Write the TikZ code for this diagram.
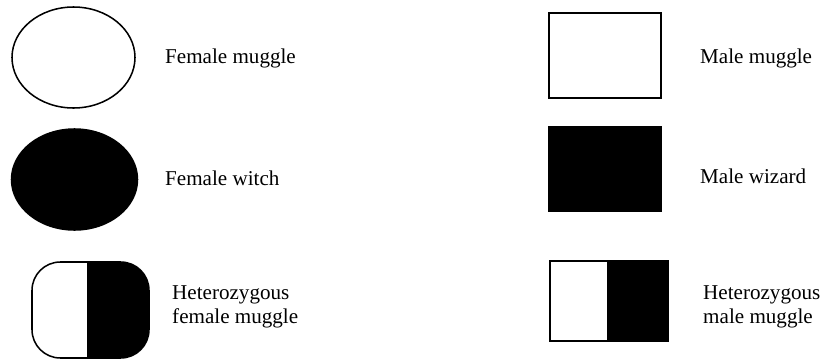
\documentclass[tikz,border=0pt]{standalone}
\usepackage{fontspec}
\setmainfont{Liberation Serif}
\usetikzlibrary{shapes.geometric}

\begin{document}
\begin{tikzpicture}[x=0.03cm, y=-0.03cm,
	sym/.style={draw=black, line width=1.3pt},
	lbl/.style={anchor=west, align=left, inner sep=0pt, font=\fontsize{18}{20.5}\selectfont}]
			%%%%% START %%%%%
			\useasboundingbox (0, 0) rectangle (826, 360);
			
			% females
			\node[sym, ellipse, minimum width=3.69cm, minimum height=3.03cm, inner sep=0pt] (fmug) at (73.5, 57.5) {};
			\node[sym, ellipse, fill=black, minimum width=3.78cm, minimum height=3.03cm, inner sep=0pt] (fwit) at (74.5, 179.5) {};
			
			\begin{scope}
				\clip (88, 250) rectangle (170, 370);
				\fill[rounded corners=0.85cm] (32, 262) rectangle (149, 358);
			\end{scope}
			\draw[sym, rounded corners=0.85cm] (32, 262) rectangle (149, 358);
			\draw[sym] (88, 262) -- (88, 358);
			
			\node[lbl] (tfmug) at (165, 58) {Female muggle};
			\node[lbl] (tfwit) at (165, 178) {Female witch};
			\node[lbl] (tfhet) at (172, 307) {Heterozygous\\female muggle};
			
			% males
			\node[sym, rectangle, minimum width=3.36cm, minimum height=2.55cm, inner sep=0pt] (mmug) at (605, 55.5) {};
			\node[sym, rectangle, fill=black, minimum width=3.36cm, minimum height=2.52cm, inner sep=0pt] (mwiz) at (605, 169) {};
			
			\fill (608, 261) rectangle (668, 341);
			\draw[sym] (550, 261) rectangle (668, 341);
			\draw[sym] (608, 261) -- (608, 341);
			
			\node[lbl] (tmmug) at (700, 58) {Male muggle};
			\node[lbl] (tmwiz) at (700, 176) {Male wizard};
			\node[lbl] (tmhet) at (703, 307) {Heterozygous\\male muggle};
			%%%%% END %%%%%
		\end{tikzpicture}
\end{document}
